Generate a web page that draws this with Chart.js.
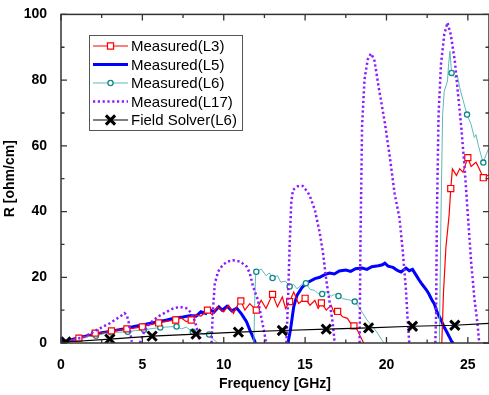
<!DOCTYPE html>
<html>
<head>
<meta charset="utf-8">
<script src="https://cdn.jsdelivr.net/npm/chart.js@4/dist/chart.umd.min.js"></script>
<style>
  html, body { margin: 0; padding: 0; background: #fff; }
</style>
</head>
<body>
<canvas id="chart" width="489" height="395"></canvas>
<script>
// Données (fréquence en GHz, R en ohm/cm)
const seriesNames = ['Measured(L3)', 'Measured(L5)', 'Measured(L6)', 'Measured(L17)', 'Field Solver(L6)'];
const xTicks = [0, 5, 10, 15, 20, 25];
const yTicks = [0, 20, 40, 60, 80, 100];

const l3Freq = [0.2, 0.6, 1.1, 1.6, 2.1, 2.6, 3.1, 3.6, 4.05, 4.5, 5.0, 5.5, 6.0, 6.5, 7.05, 7.4, 7.7, 8.0, 8.3, 8.6,
  9.0, 9.3, 9.6, 10.0, 10.3, 10.6, 10.9, 11.05, 11.3, 11.6, 12.0, 12.3, 12.6, 13.0, 13.3, 13.6, 13.8, 14.05, 14.3, 14.6,
  15.0, 15.3, 15.6, 15.8, 16.0, 16.3, 16.6, 16.8, 17.0, 17.3, 17.6, 17.8, 18.0, 18.2, 18.4, 18.6, 20.0,
  23.4, 23.5, 23.65, 23.85, 23.95, 24.05, 24.3, 24.5, 24.7, 25.0, 25.2, 25.5, 25.7, 25.95, 26.3];
const l3R = [0.3, 0.8, 1.5, 2.2, 3.0, 3.2, 3.7, 4.0, 4.3, 4.5, 4.9, 5.6, 6.1, 6.6, 7.0, 7.6, 6.5, 7.0, 8.5, 8.2,
  10.0, 8.5, 11.0, 9.5, 11.5, 9.0, 12.0, 12.8, 10.0, 12.0, 10.0, 13.0, 10.5, 14.8, 11.0, 14.0, 10.5, 12.6, 15.5, 12.0,
  13.6, 11.5, 13.0, 10.5, 12.2, 10.0, 11.5, 9.0, 9.6, 8.0, 7.5, 6.0, 5.2, 4.0, 2.0, 0, null,
  0, 15, 29, 39, 47, 53, 51, 53, 52, 56.4, 53.7, 55, 53, 50.3, 51.2];
const l3Marks = [1.1, 2.1, 3.1, 4.05, 5.0, 6.0, 7.05, 8.0, 9.0, 11.05, 12.0, 13.0, 14.05, 15.0, 16.0, 17.0, 18.0, 23.95, 25.0, 25.95];

const l5Freq = [0, 0.5, 1, 1.5, 2, 2.5, 3, 3.5, 4, 4.5, 5, 5.5, 6, 6.5, 7, 7.5, 8, 8.3, 8.6, 8.9, 9.1, 9.4, 9.7, 9.9,
  10.2, 10.5, 10.8, 11.1, 11.4, 11.6, 11.8, 11.95, 13.0,
  13.95, 14.1, 14.3, 14.5, 14.8, 15.1, 15.6, 15.9, 16.2, 16.5, 16.8, 17.1, 17.5, 17.8, 18.1, 18.5, 18.8, 19.1, 19.5,
  19.75, 19.9, 20.1, 20.4, 20.7, 20.9, 21.2, 21.4, 21.6, 21.8, 22.0, 22.2, 22.45, 22.6, 22.8, 22.95, 23.1, 23.25,
  23.4, 23.55, 23.7, 23.85, 24.0, 24.1];
const l5R = [0.3, 0.8, 1.5, 2.1, 2.6, 3.1, 3.5, 4.0, 4.4, 5.0, 5.5, 6.0, 6.5, 7.0, 7.6, 7.9, 8.4, 8.2, 9.5, 9.0, 10.3, 9.4, 11.0, 10.0,
  11.2, 9.8, 10.6, 8.8, 6.5, 4.0, 1.8, 0, null,
  0, 4, 11, 14.5, 16.8, 18.3, 19.6, 20.0, 20.8, 21.3, 21.0, 21.9, 22.2, 21.8, 22.6, 22.8, 22.4, 23.2, 23.5,
  23.8, 24.3, 23.4, 23.0, 22.0, 21.6, 22.8, 22.0, 22.4, 20.8, 19.2, 17.8, 16.2, 15.0, 13.0, 11.8, 9.5, 8.0,
  6.4, 4.8, 3.4, 2.0, 0.5, 0];

const l6Freq = [0.2, 0.6, 1.1, 1.6, 2.15, 2.6, 3.1, 3.6, 4.1, 4.6, 5.1, 5.6, 6.1, 6.6, 7.1, 7.4, 7.7, 8.1, 8.4, 8.7,
  9.1, 9.3, 9.5, 9.65, 10.5,
  11.85, 11.9, 11.95, 12.0, 12.3, 12.6, 12.8, 13.0, 13.3, 13.5, 13.8, 14.05, 14.3, 14.5, 14.8, 15.05, 15.3, 15.6, 15.8,
  16.05, 16.3, 16.6, 16.8, 17.05, 17.3, 17.6, 17.8, 18.05, 18.3, 18.55, 18.8, 19.15, 19.45, 19.7, 19.85, 21.5,
  23.25, 23.35, 23.45, 23.55, 23.75, 23.82, 23.9, 24.0, 24.2, 24.35, 24.5, 24.7, 24.95, 25.2, 25.4, 25.5, 25.65,
  25.8, 25.95, 26.1, 26.3];
const l6R = [0.3, 0.9, 1.5, 1.9, 2.2, 2.8, 3.2, 3.3, 3.4, 3.8, 4.0, 4.4, 4.7, 4.9, 5.0, 4.3, 4.8, 3.4, 3.8, 2.8,
  2.6, 1.5, 0.5, 0, null,
  0, 12, 20, 21.7, 22.5, 20.5, 21.3, 19.8, 20.5, 18.5, 18.8, 17.2, 17.8, 16.5, 17.8, 18.2, 16.3, 16.0, 15.0,
  14.9, 15.6, 14.2, 14.8, 14.3, 13.5, 13.2, 13.0, 12.6, 11.0, 9.0, 7.0, 5.0, 3.0, 1.0, 0, null,
  0, 39, 69.5, 76.6, 79.7, 85, 88.8, 82.2, 80.8, 81.5, 77.7, 74, 69.5, 66.5, 62.5, 63.4, 60,
  57.3, 54.9, 57, 59.5];
const l6Marks = [1.1, 2.15, 3.1, 4.1, 5.1, 6.1, 7.1, 8.1, 9.1, 12.0, 13.0, 14.05, 15.05, 16.05, 17.05, 18.05, 24.0, 24.95, 25.95];

const l17Freq = [0.2, 0.8, 1.4, 2.0, 2.6, 3.0, 3.4, 3.7, 3.9, 4.05, 4.15, 4.25, 4.35, 4.6,
  4.85, 5.15, 5.45, 5.95, 6.5, 6.9, 7.3, 7.7, 8.0, 8.2, 8.35, 8.45, 8.55, 8.9,
  9.25, 9.3, 9.35, 9.45, 9.65, 9.95, 10.25, 10.55, 11.0, 11.4, 11.6, 11.8, 12.1, 12.3, 12.5, 12.6, 13.2,
  13.85, 13.95, 14.05, 14.15, 14.25, 14.55, 14.85, 15.15, 15.3, 15.6, 15.9, 16.1, 16.3, 16.55, 16.7, 16.8, 16.85, 17.5,
  18.35, 18.4, 18.5, 18.65, 18.85, 19.05, 19.25, 19.55, 19.9, 20.2, 20.5, 20.8, 21.0, 21.2, 21.3, 21.4, 22.0,
  23.0, 23.05, 23.1, 23.2, 23.35, 23.55, 23.75, 23.95, 24.2, 24.4, 24.6, 24.8, 25.0, 25.2, 25.4, 25.6, 25.7];
const l17R = [0.3, 1.0, 1.8, 3.4, 5.0, 6.0, 7.3, 8.3, 9.1, 8.4, 6.5, 3.4, 0.4, null,
  0, 4.0, 6.0, 8.0, 9.5, 10.5, 11.0, 10.6, 9.2, 7.0, 4.5, 2.0, 0, null,
  0, 6, 11, 18, 21.7, 23.8, 24.8, 25.2, 24.8, 23.3, 21.3, 17.2, 13.1, 8, 3, 0, null,
  0, 13, 30, 42.7, 46.6, 47.7, 47.8, 46, 44.6, 40.5, 33.5, 27.4, 19.2, 11, 6, 1, 0, null,
  0, 30, 66, 80.2, 86.3, 88.1, 86.3, 77, 67, 56.8, 45.5, 38, 28, 16, 7, 0, null,
  0, 8.5, 39, 69.5, 84.8, 93.9, 97.5, 93.9, 85.8, 75.6, 65.5, 53.4, 39, 24.8, 13.7, 5.5, 0];

const fsFreq = [0.3, 3.0, 5.6, 8.3, 10.9, 13.6, 16.3, 18.9, 21.6, 24.2, 26.3];
const fsR = [0.3, 1.2, 2.1, 2.7, 3.3, 3.8, 4.2, 4.6, 5.1, 5.4, 6.0];
const fsMarks = [0.3, 3.0, 5.6, 8.3, 10.9, 13.6, 16.3, 18.9, 21.6, 24.2];

const toPoints = (fx, ry) => fx.map((f, i) => ({ x: f, y: ry[i] }));
const markRadius = (fx, marks, r) => c => marks.includes(fx[c.dataIndex]) ? r : 0;

const FONT = 'Arial, "Liberation Sans", sans-serif';

// Légende dessinée dans la zone du graphique (comme dans la figure d'origine)
const legendItems = [
  { color: '#ff0000', width: 1.2, dash: [], marker: 'rect' },
  { color: '#0000ff', width: 3, dash: [], marker: null },
  { color: '#5fb9b5', width: 1, dash: [], marker: 'circle', markerColor: '#0d8a88' },
  { color: '#8a1cff', width: 2.5, dash: [2.2, 2.6], marker: null },
  { color: '#000000', width: 1.2, dash: [], marker: 'crossRot' }
];

const framePlugin = {
  id: 'frame',
  afterDatasetsDraw(chart) {
    const { ctx, chartArea: a, scales: { x, y } } = chart;
    ctx.save();
    ctx.strokeStyle = '#333';
    ctx.lineWidth = 1.5;
    ctx.strokeRect(a.left, a.top, a.right - a.left, a.bottom - a.top);
    ctx.lineWidth = 1.3;
    ctx.beginPath();
    // graduations vers l'intérieur, majeures et mineures
    for (let i = 0; i < xTicks.length; i++) {
      [xTicks[i], xTicks[i] + 2.5].forEach((v, k) => {
        const px = x.getPixelForValue(v);
        if (px > a.right) return;
        const len = k === 0 ? 6 : 3.5;
        ctx.moveTo(px, a.bottom); ctx.lineTo(px, a.bottom - len);
        ctx.moveTo(px, a.top); ctx.lineTo(px, a.top + len);
      });
    }
    for (let i = 0; i < yTicks.length; i++) {
      [yTicks[i], yTicks[i] + 10].forEach((v, k) => {
        if (v > 100) return;
        const py = y.getPixelForValue(v);
        const len = k === 0 ? 6 : 3.5;
        ctx.moveTo(a.left, py); ctx.lineTo(a.left + len, py);
        ctx.moveTo(a.right, py); ctx.lineTo(a.right - len, py);
      });
    }
    ctx.stroke();

    // légende
    const bx = 89, by = 35, bw = 153, bh = 95;
    ctx.fillStyle = '#fff';
    ctx.fillRect(bx, by, bw, bh);
    ctx.strokeStyle = '#555';
    ctx.lineWidth = 1;
    ctx.strokeRect(bx + 0.5, by + 0.5, bw, bh);
    ctx.font = '15px ' + FONT;
    ctx.textBaseline = 'middle';
    legendItems.forEach((it, i) => {
      const yy = 46 + i * 18.5;
      ctx.save();
      ctx.strokeStyle = it.color;
      ctx.lineWidth = it.width;
      ctx.setLineDash(it.dash);
      ctx.beginPath();
      ctx.moveTo(93, yy); ctx.lineTo(128, yy);
      ctx.stroke();
      ctx.restore();
      if (it.marker) {
        const mc = it.markerColor || it.color;
        const opts = it.marker === 'rect'
          ? { pointStyle: 'rect', radius: 4.3, borderWidth: 1.2 }
          : it.marker === 'circle'
            ? { pointStyle: 'circle', radius: 2.6, borderWidth: 1.3 }
            : { pointStyle: 'crossRot', radius: 6.5, borderWidth: 3 };
        ctx.save();
        ctx.strokeStyle = mc;
        ctx.fillStyle = '#fff';
        ctx.lineWidth = opts.borderWidth;
        Chart.helpers.drawPoint(ctx, opts, 110.5, yy);
        ctx.restore();
      }
      ctx.fillStyle = '#000';
      ctx.fillText(seriesNames[i], 131, yy + 1);
    });
    ctx.restore();
  }
};

const ctx = document.getElementById('chart').getContext('2d');
new Chart(ctx, {
  type: 'line',
  data: {
    datasets: [
      {
        label: seriesNames[4],
        data: toPoints(fsFreq, fsR),
        borderColor: '#000',
        borderWidth: 1.2,
        pointStyle: 'crossRot',
        pointRadius: markRadius(fsFreq, fsMarks, 6.5),
        pointBorderWidth: 3,
        pointBorderColor: '#000'
      },
      {
        label: seriesNames[3],
        data: toPoints(l17Freq, l17R),
        borderColor: '#8a1cff',
        borderWidth: 2.5,
        borderDash: [2.2, 2.6],
        pointRadius: 0
      },
      {
        label: seriesNames[0],
        data: toPoints(l3Freq, l3R),
        borderColor: '#ff0000',
        borderWidth: 1.2,
        pointStyle: 'rect',
        pointRadius: markRadius(l3Freq, l3Marks, 4.3),
        pointBorderWidth: 1.2,
        pointBorderColor: '#ff0000',
        pointBackgroundColor: '#fff'
      },
      {
        label: seriesNames[2],
        data: toPoints(l6Freq, l6R),
        borderColor: '#5fb9b5',
        borderWidth: 1,
        pointStyle: 'circle',
        pointRadius: markRadius(l6Freq, l6Marks, 2.6),
        pointBorderWidth: 1.3,
        pointBorderColor: '#0d8a88',
        pointBackgroundColor: '#fff'
      },
      {
        label: seriesNames[1],
        data: toPoints(l5Freq, l5R),
        borderColor: '#0000ff',
        borderWidth: 3,
        pointRadius: 0
      }
    ]
  },
  options: {
    responsive: false,
    animation: false,
    devicePixelRatio: 1,
    spanGaps: false,
    layout: { autoPadding: false, padding: { top: 7, right: 0, left: 0, bottom: 0 } },
    elements: { line: { tension: 0 }, point: { hoverRadius: 0 } },
    plugins: {
      legend: { display: false },
      tooltip: { enabled: false }
    },
    scales: {
      x: {
        type: 'linear',
        min: 0,
        max: 26.3,
        grid: { display: false },
        border: { display: false },
        ticks: {
          stepSize: 5,
          includeBounds: false,
          padding: 6,
          color: '#000',
          font: { family: FONT, size: 14, weight: 'bold' },
          maxRotation: 0
        },
        title: {
          display: true,
          text: 'Frequency [GHz]',
          color: '#000',
          font: { family: FONT, size: 14, weight: 'bold' },
          padding: { top: 4, bottom: 2 }
        },
        afterFit: s => { s.height = 52; }
      },
      y: {
        type: 'linear',
        min: 0,
        max: 100,
        grid: { display: false },
        border: { display: false },
        ticks: {
          stepSize: 20,
          padding: 6,
          color: '#000',
          font: { family: FONT, size: 14, weight: 'bold' }
        },
        title: {
          display: true,
          text: 'R [ohm/cm]',
          color: '#000',
          font: { family: FONT, size: 14, weight: 'bold' },
          padding: { top: 2, bottom: 2 }
        },
        afterFit: s => { s.width = 61; }
      }
    }
  },
  plugins: [framePlugin]
});
</script>
</body>
</html>
